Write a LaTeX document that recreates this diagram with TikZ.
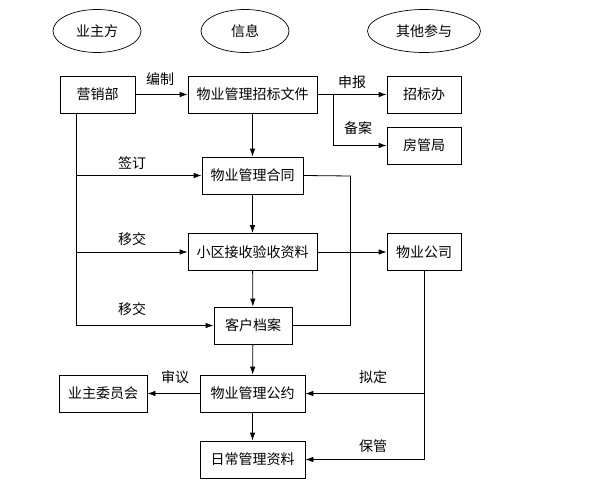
\documentclass[tikz,border=0pt]{standalone}
\usepackage{fontspec}
\setmainfont{Noto Sans CJK SC}
\usetikzlibrary{arrows.meta,shapes.geometric}
\begin{document}
\begin{tikzpicture}[x=1pt,y=-1pt,
  every node/.style={font=\fontsize{14}{16}\selectfont},
  box/.style={draw,line width=0.8pt,minimum height=37pt,inner sep=0pt},
  oval/.style={draw,ellipse,line width=0.7pt,minimum height=43pt,inner sep=0pt},
  lbl/.style={inner sep=0pt},
  ln/.style={line width=0.8pt},
  arr/.style={ln,-{Latex[length=8pt,width=5.5pt]}}]
\useasboundingbox (0,0) rectangle (595,487);
\node[oval,minimum width=88pt] (o1) at (97,31) {业主方};
\node[oval,minimum width=88pt] (o2) at (245,31) {信息};
\node[oval,minimum width=113pt] (o3) at (424,31) {其他参与};

\node[box,minimum width=75pt] (yxb) at (97.5,94.5) {营销部};
\node[box,minimum width=129pt] (wj) at (252.5,94.5) {物业管理招标文件};
\node[box,minimum width=74pt] (zbb) at (424,94.5) {招标办};
\node[box,minimum width=74pt] (fgj) at (424,145.5) {房管局};
\node[box,minimum width=101pt] (ht) at (252.5,175.5) {物业管理合同};
\node[box,minimum width=129pt] (xq) at (252.5,252) {小区接收验收资料};
\node[box,minimum width=74pt] (gs) at (424,252) {物业公司};
\node[box,minimum width=78pt] (da) at (253,325.5) {客户档案};
\node[box,minimum width=105pt] (gy) at (252.5,393.5) {物业管理公约};
\node[box,minimum width=88pt] (wyh) at (103,393.5) {业主委员会};
\node[box,minimum width=105pt] (rc) at (252.5,459.5) {日常管理资料};

\coordinate (L) at (76,113);
\coordinate (B) at (333,94.5);
\coordinate (R) at (350.5,176);
\coordinate (G) at (424,459.5);

\draw[arr] (yxb) -- (wj);
\draw[arr] (wj) -- (zbb);
\draw[arr] (B) |- (fgj.west);
\draw[arr] (wj) -- (ht);
\draw[arr] (ht) -- (xq);
\draw[arr] (xq) -- (da);
\draw[arr] (da) -- (gy);
\draw[arr] (gy) -- (rc);
\draw[arr] (xq) -- (gs);
\draw[arr] (gy) -- (wyh);
\draw[arr] (L) |- (da.west);
\draw[arr] (L |- ht.west) -- (ht.west);
\draw[arr] (L |- xq.west) -- (xq.west);
\draw[ln] (ht.east) -- (R) |- (da.east);
\draw[arr] (gs.south) -- (G) -- (rc.east);
\draw[arr] (gs.south |- gy.east) -- (gy.east);

\node[lbl] (l1) at (160,79) {编制};
\node[lbl] (l2) at (352,82) {申报};
\node[lbl] (l3) at (358,128) {备案};
\node[lbl] (l4) at (132,163) {签订};
\node[lbl] (l5) at (132,239) {移交};
\node[lbl] (l6) at (132,309) {移交};
\node[lbl] (l7) at (175,377) {审议};
\node[lbl] (l8) at (373,377) {拟定};
\node[lbl] (l9) at (373,446) {保管};
\end{tikzpicture}
\end{document}
